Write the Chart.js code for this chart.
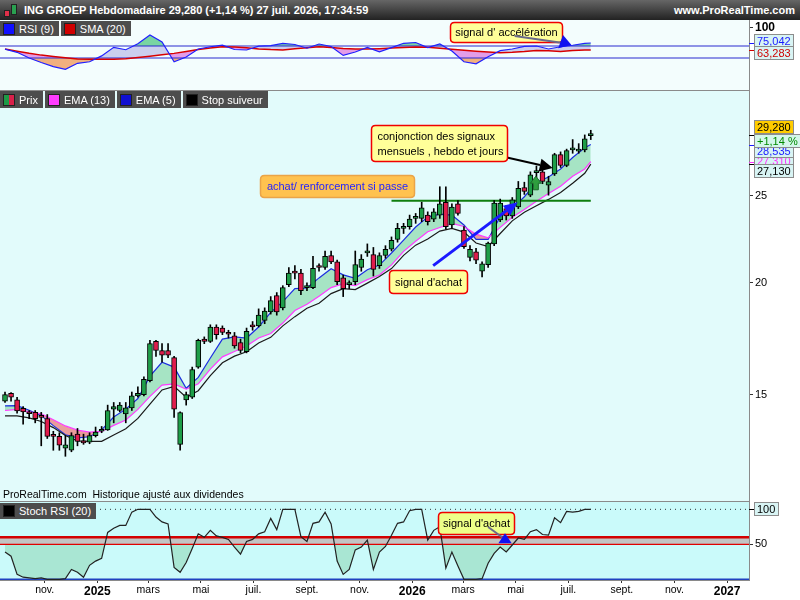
<!DOCTYPE html>
<html lang="fr">
<head>
<meta charset="utf-8">
<title>ING GROEP Hebdomadaire</title>
<script src="https://cdn.jsdelivr.net/npm/chart.js@4.4.1/dist/chart.umd.min.js"></script>
<style>
  html, body { margin: 0; padding: 0; background: #fff; }
  body { position: relative; width: 800px; height: 600px; overflow: hidden;
         font-family: "Liberation Sans", Arial, sans-serif; font-size: 11px; }
  canvas { position: absolute; left: 0; }
  #titre { position: absolute; left: 0; top: 0; width: 800px; height: 20px;
           background: linear-gradient(#666, #222); color: #fff; font-weight: bold; line-height: 20px; }
  #titre .nom { position: absolute; left: 24px; }
  #titre .site { position: absolute; right: 5px; }
  .ico { position: absolute; width: 4px; border: 1px solid #222; }
  .sep { position: absolute; left: 0; width: 749px; height: 1px; background: #8a8a8a; }
  .chips { position: absolute; left: 0; display: flex; }
  .chip { display: flex; align-items: center; background: #4d4d4d; color: #fff;
          margin-right: 2px; padding: 0 5px 0 3px; white-space: nowrap; }
  .chip b { display: inline-block; width: 10px; height: 10px; margin-right: 4px; border: 1px solid #222; }
  #source { position: absolute; left: 3px; top: 488px; color: #000; font-size: 10.5px; }
</style>
</head>
<body>
<div id="titre">
  <span class="ico" style="left:4px;top:10px;height:5px;background:#e0304a"></span>
  <span class="ico" style="left:11px;top:4px;height:9px;background:#2aa050"></span>
  <span class="nom">ING GROEP Hebdomadaire 29,280 (+1,14 %) 27 juil. 2026, 17:34:59</span>
  <span class="site">www.ProRealTime.com</span>
</div>
<canvas id="rsi" width="800" height="70" style="top:20px"></canvas>
<canvas id="prix" width="800" height="411" style="top:90px"></canvas>
<canvas id="stoch" width="800" height="99" style="top:501px"></canvas>
<div class="sep" style="top:90px"></div>
<div class="sep" style="top:501px"></div>
<div class="chips" style="top:21px;height:15px">
  <div class="chip"><b style="background:#1010ff"></b>RSI (9)</div>
  <div class="chip"><b style="background:#d00000"></b>SMA (20)</div>
</div>
<div class="chips" style="top:91px;height:17px">
  <div class="chip"><b style="background:linear-gradient(90deg,#1e9a46 50%,#d8204a 50%)"></b>Prix</div>
  <div class="chip"><b style="background:#ff3cff"></b>EMA (13)</div>
  <div class="chip"><b style="background:#1010d0"></b>EMA (5)</div>
  <div class="chip"><b style="background:#000"></b>Stop suiveur</div>
</div>
<div id="source">ProRealTime.com&nbsp; Historique ajusté aux dividendes</div>
<div class="chips" style="top:503px;height:16px">
  <div class="chip"><b style="background:#000"></b>Stoch RSI (20)</div>
</div>

<script>
// ----------------------------
// Données (semaines depuis le 16 sept. 2024)
// ----------------------------
const opens = [
  14.75, 15.05, 14.8, 14.48, 14.3, 14.33, 14.2, 14.1, 13.52, 13.47,
  13.07, 13.0, 13.55, 13.3, 13.27, 13.5, 13.65, 13.7, 14.45, 14.4,
  14.27, 14.5, 14.95, 15.0, 15.55, 17.2, 16.8, 16.8, 16.5, 13.2,
  14.8, 14.9, 16.1, 17.3, 17.2, 17.85, 17.8, 17.55, 17.45, 17.15,
  16.75, 17.95, 17.9, 18.15, 18.55, 19.35, 18.75, 19.9, 20.6, 20.5,
  19.75, 19.75, 20.9, 20.8, 21.45, 21.1, 20.25, 19.9, 20.05, 20.8,
  21.6, 21.5, 20.9, 21.45, 21.8, 22.35, 23.0, 23.1, 23.6, 23.6,
  23.8, 23.55, 23.8, 24.6, 23.2, 24.5, 22.9, 21.35, 21.65, 20.6,
  20.95, 22.1, 23.5, 24.2, 23.75, 24.3, 25.55, 25.05, 26.55, 26.6,
  25.7, 26.45, 27.8, 27.05, 28.15, 28.05, 28.15, 29.2
];
const highs = [
  15.1, 15.08, 14.9, 14.55, 14.4, 14.4, 14.33, 14.25, 13.65, 13.6,
  13.5, 13.6, 13.75, 13.55, 13.6, 13.8, 13.82, 14.6, 14.7, 14.7,
  14.7, 15.1, 15.3, 15.7, 17.25, 17.25, 17.1, 17.1, 16.55, 14.35,
  15.1, 16.1, 17.3, 17.4, 17.95, 17.95, 17.9, 17.7, 17.6, 17.3,
  17.8, 18.1, 18.7, 18.75, 19.3, 19.5, 19.85, 20.8, 20.9, 20.7,
  20.0, 21.4, 21.0, 21.7, 21.7, 21.2, 20.4, 20.1, 21.7, 21.5,
  22.1, 21.9, 21.6, 22.0, 22.5, 23.3, 23.3, 23.8, 23.9, 24.6,
  24.0, 24.2, 25.6, 25.6, 24.5, 24.7, 23.1, 22.0, 21.85, 21.1,
  22.2, 24.7, 24.8, 24.4, 24.9, 25.95, 25.9, 26.6, 27.0, 26.8,
  26.3, 27.9, 28.0, 28.2, 28.9, 28.6, 29.25, 29.6
];
const lows = [
  14.7, 14.75, 14.3, 13.9, 14.1, 13.95, 13.15, 13.4, 13.0, 13.0,
  12.8, 12.95, 13.15, 13.2, 13.22, 13.45, 13.6, 13.68, 13.95, 14.35,
  13.95, 14.4, 14.9, 14.95, 15.5, 16.55, 16.3, 16.5, 14.15, 13.0,
  14.6, 14.85, 16.05, 17.1, 17.15, 17.3, 17.5, 17.35, 16.9, 16.7,
  16.7, 17.7, 17.85, 18.0, 18.45, 18.4, 18.65, 19.8, 20.2, 19.4,
  19.6, 19.7, 20.6, 20.7, 21.0, 19.9, 19.3, 19.7, 19.9, 20.6,
  21.4, 20.35, 20.75, 21.3, 21.7, 22.2, 22.7, 22.95, 23.3, 23.4,
  23.2, 23.4, 23.6, 22.95, 23.0, 23.8, 21.85, 21.15, 21.0, 20.3,
  20.8, 22.0, 23.4, 23.5, 23.6, 24.2, 25.1, 24.95, 26.2, 25.8,
  25.05, 26.35, 26.9, 26.95, 27.9, 27.9, 28.0, 28.9
];
const closes = [
  15.0, 14.9, 14.38, 14.35, 14.28, 14.1, 14.15, 13.47, 13.47, 13.17,
  13.18, 13.5, 13.3, 13.25, 13.5, 13.62, 13.68, 14.4, 14.55, 14.6,
  14.5, 14.95, 15.05, 15.6, 17.1, 16.8, 16.6, 16.6, 14.45, 14.32,
  15.0, 16.0, 17.25, 17.2, 17.85, 17.5, 17.6, 17.52, 17.0, 16.8,
  17.65, 17.85, 18.4, 18.6, 19.1, 18.55, 19.75, 20.5, 20.5, 19.6,
  19.8, 20.75, 20.8, 21.4, 21.1, 20.05, 19.7, 19.95, 20.95, 21.25,
  21.65, 20.7, 21.45, 21.8, 22.3, 23.0, 23.05, 23.55, 23.65, 24.25,
  23.4, 24.0, 24.5, 23.1, 24.3, 23.9, 21.95, 21.8, 21.2, 21.0,
  22.15, 24.55, 24.55, 23.75, 24.75, 25.5, 25.3, 26.4, 26.6, 25.95,
  25.95, 27.8, 27.05, 28.1, 28.2, 28.2, 28.95, 29.28
];

// semaines où les courbes ont été relevées
const lineWeeks = [
  0, 2, 4, 6, 8, 10, 12, 14, 16, 18, 20, 22, 24, 26, 28, 30, 32, 34, 36, 38,
  40, 42, 44, 46, 48, 50, 52, 54, 56, 58, 60, 62, 64, 66, 68, 70, 72, 74, 76, 78,
  80, 82, 84, 86, 88, 90, 92, 94, 96, 97
];
const ema5 = [
  14.57, 14.58, 14.41, 14.21, 13.85, 13.53, 13.42, 13.46, 13.7, 14.16,
  14.45, 14.85, 15.73, 16.3, 16.1, 15.25, 15.68, 16.48, 17.3, 17.4,
  17.35, 17.85, 18.53, 19.05, 19.7, 19.73, 20.25, 20.73, 20.41, 20.23,
  20.68, 20.93, 21.59, 22.32, 23.08, 23.68, 23.86, 23.8, 23.2, 22.36,
  22.36, 23.7, 24.2, 24.95, 25.88, 26.25, 26.8, 27.6, 28.3, 28.535
];
const ema13 = [
  14.4, 14.44, 14.35, 14.28, 14.06, 13.84, 13.69, 13.62, 13.65, 13.86,
  14.05, 14.44, 14.93, 15.37, 15.42, 15.21, 15.42, 16.02, 16.53, 16.76,
  17.0, 17.35, 17.55, 18.03, 18.62, 18.92, 19.32, 19.75, 19.95, 19.85,
  20.16, 20.4, 20.94, 21.68, 22.25, 22.8, 23.05, 23.3, 23.11, 22.66,
  22.45, 23.06, 23.67, 24.14, 24.66, 25.16, 25.63, 26.3, 26.8, 27.31
];
const stopSuiveur = [
  14.2, 14.2, 14.13, 14.0, 13.78, 13.5, 13.32, 13.3, 13.3, 13.52,
  13.74, 14.11, 14.64, 15.18, 15.32, 14.9, 15.15, 15.75, 16.28, 16.56,
  16.75, 17.13, 17.38, 17.9, 18.33, 18.73, 18.97, 19.45, 19.7, 19.65,
  19.98, 20.32, 20.74, 21.46, 22.03, 22.38, 22.84, 23.0, 22.78, 22.15,
  21.95, 22.7, 23.45, 23.98, 24.38, 24.78, 25.22, 25.83, 26.5, 27.13
];
const resistanceWeeks = [64, 97];
const resistanceLevel = 24.7;
const priceTicks = [15, 20, 25];

const rsi = [
  64.7, 59.5, 50, 42.5, 35.7, 31.2, 41.2, 43.7, 53.5, 67.8,
  63.8, 73.8, 88.3, 76.7, 43.7, 51.7, 65, 68.8, 71.3, 64.2,
  63.3, 69.7, 70.5, 74.2, 72.5, 66.3, 73.3, 69.2, 54.3, 60,
  67.8, 60.3, 67.3, 74.5, 75.8, 67.5, 73.3, 61.5, 43.7, 40.3,
  52.2, 62.3, 65, 69.3, 70, 65, 68.8, 71.2, 74.3, 75.042
];
const rsiSma = [
  65, 61.3, 57.8, 54.8, 52.5, 50.3, 48.3, 47.8, 47.8, 47.8,
  48.7, 50.8, 53, 55.3, 57.7, 60.7, 64, 66.7, 68.8, 68.2,
  67, 65.2, 64, 63.3, 65.5, 67, 68.8, 67.3, 65.8, 64.8,
  64.8, 65.5, 66.5, 67.5, 68.5, 67.8, 66.2, 64.5, 62.8, 61.2,
  59.8, 58.8, 59.5, 60.7, 62.5, 62.2, 60.7, 62.5, 63.3, 63.283
];
const rsiLevels = [70, 50];

const stochRsi = [
  39, 33, 7, 3, 2, 1, 2, 0, 0, 0,
  1, 14, 10, 3, 20, 26, 30, 67, 73, 77,
  77, 96, 100, 100, 100, 89, 82, 79, 17, 10,
  24, 44, 65, 60, 70, 62, 60, 57, 46, 36,
  54, 57, 65, 68, 87, 71, 100, 100, 100, 61,
  54, 80, 82, 96, 79, 26, 7, 14, 42, 46,
  56, 14, 39, 47, 63, 80, 82, 98, 100, 100,
  56, 70, 75, 16, 39, 19, 0, 0, 0, 1,
  23, 37, 46, 39, 49, 59, 57, 68, 71, 64,
  63, 88, 81, 97, 96, 97, 100, 100
];
const stochBand = [60, 50];
const stochTop = 100;
const stochFloor = 0;

const axisDates = [
  [2024, 11, 1], [2025, 1, 1], [2025, 3, 1], [2025, 5, 1], [2025, 7, 1], [2025, 9, 1], [2025, 11, 1],
  [2026, 1, 1], [2026, 3, 1], [2026, 5, 1], [2026, 7, 1], [2026, 9, 1], [2026, 11, 1], [2027, 1, 1]
];
const axisLabels = ['nov.', '2025', 'mars', 'mai', 'juil.', 'sept.', 'nov.',
                    '2026', 'mars', 'mai', 'juil.', 'sept.', 'nov.', '2027'];

// ----------------------------
// Réglages communs
// ----------------------------
const FONT = '"Liberation Sans", Arial, sans-serif';
Chart.defaults.font.family = FONT;
Chart.defaults.font.size = 11;
Chart.defaults.color = '#000';

const startWeek = Date.UTC(2024, 8, 16);
const weekOf = d => (Date.UTC(d[0], d[1] - 1, d[2]) - startWeek) / (7 * 86400000);
const axisTicks = axisDates.map(weekOf);
const X_MIN = -0.83, X_MAX = 123.2;

const weeks = closes.map((_, i) => i);
const pts = arr => lineWeeks.map((x, k) => ({ x: x, y: arr[k] }));
const level = v => [{ x: X_MIN, y: v }, { x: X_MAX, y: v }];
const fmt = v => v.toFixed(3).replace('.', ',');
const NONE = 'rgba(0,0,0,0)';

// pas de marge ajoutée par les étiquettes d'axe
function noPad(s) {
  s.paddingTop = 0; s.paddingBottom = 0; s.paddingLeft = 0; s.paddingRight = 0;
}

function xAxis(show) {
  return {
    type: 'linear', min: X_MIN, max: X_MAX, offset: false, display: show,
    afterBuildTicks: s => { s.ticks = axisTicks.map(v => ({ value: v })); },
    afterFit: s => { if (show) s.height = 20; noPad(s); },
    grid: { drawOnChartArea: false, color: '#333', tickLength: 3 },
    border: { color: '#8a8a8a' },
    ticks: {
      autoSkip: false, maxRotation: 0, padding: 1, color: '#000',
      callback: (v, i) => axisLabels[i],
      font: c => /^\d/.test(axisLabels[c.index] || '')
        ? { family: FONT, size: 12, weight: 'bold' }
        : { family: FONT, size: 10.5 }
    }
  };
}

function yAxis(extra) {
  return Object.assign({
    position: 'right',
    afterFit: s => { s.width = 51; noPad(s); },
    grid: { drawOnChartArea: false, color: '#333', tickLength: 4 },
    border: { color: '#8a8a8a' },
    ticks: { color: '#000', padding: 2, autoSkip: false }
  }, extra);
}

// fond de la zone de tracé
const panelBg = {
  id: 'panelBg',
  beforeDraw(chart, args, opts) {
    const { ctx, chartArea: a } = chart;
    ctx.save();
    ctx.fillStyle = opts.color;
    ctx.fillRect(a.left, a.top, a.right - a.left, a.bottom - a.top);
    ctx.restore();
  }
};

function roundBox(ctx, x, y, w, h, r) {
  ctx.beginPath();
  ctx.moveTo(x + r, y);
  ctx.lineTo(x + w - r, y); ctx.quadraticCurveTo(x + w, y, x + w, y + r);
  ctx.lineTo(x + w, y + h - r); ctx.quadraticCurveTo(x + w, y + h, x + w - r, y + h);
  ctx.lineTo(x + r, y + h); ctx.quadraticCurveTo(x, y + h, x, y + h - r);
  ctx.lineTo(x, y + r); ctx.quadraticCurveTo(x, y, x + r, y);
  ctx.closePath();
}

// annotations (positions en semaines / valeurs)
const notes = {
  id: 'notes',
  afterDatasetsDraw(chart, args, opts) {
    const ctx = chart.ctx, sx = chart.scales.x, sy = chart.scales.y;
    const X = v => sx.getPixelForValue(v), Y = v => sy.getPixelForValue(v);
    ctx.save();
    for (const n of opts.items || []) {
      if (n.kind === 'box') {
        const x1 = Math.round(X(n.x1)) + 0.5, x2 = Math.round(X(n.x2)) + 0.5;
        const y1 = Math.round(Y(n.y1)) + 0.5, y2 = Math.round(Y(n.y2)) + 0.5;
        roundBox(ctx, x1, y1, x2 - x1, y2 - y1, 4);
        ctx.fillStyle = n.bg; ctx.fill();
        ctx.strokeStyle = n.border; ctx.lineWidth = 1.5; ctx.stroke();
        ctx.font = '11px ' + FONT;
        ctx.fillStyle = n.color || '#000';
        ctx.textBaseline = 'middle';
        ctx.textAlign = n.align === 'left' ? 'left' : 'center';
        const tx = n.align === 'left' ? x1 + 6 : (x1 + x2) / 2;
        const lh = 15, cy = (y1 + y2) / 2 - (n.text.length - 1) * lh / 2;
        n.text.forEach((s, k) => ctx.fillText(s, tx, cy + k * lh + 0.5));
      } else if (n.kind === 'arrow') {
        const x1 = X(n.x1), y1 = Y(n.y1), x2 = X(n.x2), y2 = Y(n.y2);
        const a = Math.atan2(y2 - y1, x2 - x1);
        const bx = x2 - n.head * Math.cos(a), by = y2 - n.head * Math.sin(a);
        ctx.strokeStyle = n.color; ctx.lineWidth = n.width;
        ctx.beginPath(); ctx.moveTo(x1, y1); ctx.lineTo(bx, by); ctx.stroke();
        if (n.head > 0) {
          const nx = -Math.sin(a) * n.wide / 2, ny = Math.cos(a) * n.wide / 2;
          ctx.fillStyle = n.color;
          ctx.beginPath(); ctx.moveTo(x2, y2); ctx.lineTo(bx + nx, by + ny); ctx.lineTo(bx - nx, by - ny);
          ctx.closePath(); ctx.fill();
        }
      } else if (n.kind === 'tri') {
        ctx.fillStyle = n.color;
        ctx.beginPath();
        n.pts.forEach((p, k) => k ? ctx.lineTo(X(p[0]), Y(p[1])) : ctx.moveTo(X(p[0]), Y(p[1])));
        ctx.closePath(); ctx.fill();
      } else if (n.kind === 'up') {
        const x = X(n.x), yb = Y(n.y1), yt = Y(n.y2), yh = yt + 7;
        ctx.fillStyle = n.color; ctx.strokeStyle = n.border; ctx.lineWidth = 1;
        ctx.beginPath();
        ctx.moveTo(x - 2.5, yb); ctx.lineTo(x - 2.5, yh); ctx.lineTo(x - 5.5, yh); ctx.lineTo(x, yt);
        ctx.lineTo(x + 5.5, yh); ctx.lineTo(x + 2.5, yh); ctx.lineTo(x + 2.5, yb);
        ctx.closePath(); ctx.fill(); ctx.stroke();
      }
    }
    ctx.restore();
  }
};

// étiquettes de dernière valeur sur l'axe de droite
const tags = {
  id: 'tags',
  afterDraw(chart, args, opts) {
    const ctx = chart.ctx, sy = chart.scales.y, x0 = chart.chartArea.right;
    ctx.save();
    ctx.font = '11px ' + FONT;
    for (const t of opts.items || []) {
      const y = sy.getPixelForValue(t.value);
      if (t.tick) {
        ctx.strokeStyle = t.tick; ctx.lineWidth = 1;
        ctx.beginPath(); ctx.moveTo(x0, Math.round(y) + 0.5); ctx.lineTo(x0 + 5, Math.round(y) + 0.5); ctx.stroke();
      }
      const cy = Math.round(y + t.shift);
      const w = Math.ceil(ctx.measureText(t.text).width) + 6;
      ctx.fillStyle = t.bg; ctx.fillRect(x0 + 5, cy - 7, w, 14);
      ctx.strokeStyle = '#8c8c8c'; ctx.strokeRect(x0 + 5.5, cy - 6.5, w - 1, 13);
      ctx.fillStyle = t.color; ctx.textBaseline = 'middle'; ctx.textAlign = 'left';
      ctx.fillText(t.text, x0 + 8, cy + 0.5);
    }
    ctx.restore();
  }
};

const base = {
  responsive: false, animation: false, events: [],
  layout: { padding: 0 }
};

// ----------------------------
// RSI (9) + SMA (20)
// ----------------------------
const rsiPts = pts(rsi), smaPts = pts(rsiSma);
new Chart(document.getElementById('rsi'), {
  type: 'line',
  data: { datasets: [
    { data: rsiPts, borderColor: NONE, borderWidth: 0, pointRadius: 0,
      fill: { target: { value: rsiLevels[0] }, above: '#79d5a2', below: NONE } },
    { data: rsiPts, borderColor: NONE, borderWidth: 0, pointRadius: 0,
      fill: { target: { value: rsiLevels[1] }, above: NONE, below: '#f1b07f' } },
    { label: 'RSI (9)', data: rsiPts, borderColor: '#2020ff', borderWidth: 1.2, pointRadius: 0,
      fill: { target: 3, above: '#cbcfee', below: '#e39de7' } },
    { label: 'SMA (20)', data: smaPts, borderColor: '#d80000', borderWidth: 1.5, pointRadius: 0 },
    { data: level(rsiLevels[0]), borderColor: '#2a2ad0', borderWidth: 1.2, pointRadius: 0 },
    { data: level(rsiLevels[1]), borderColor: '#2a2ad0', borderWidth: 1.2, pointRadius: 0 }
  ]},
  options: Object.assign({}, base, {
    scales: {
      x: xAxis(false),
      y: yAxis({
        min: -3.33, max: 113.33,
        afterBuildTicks: s => { s.ticks = [{ value: 100 }]; },
        ticks: { color: '#000', padding: 2, font: { family: FONT, size: 12, weight: 'bold' } }
      })
    },
    plugins: {
      legend: { display: false }, tooltip: { enabled: false },
      filler: { drawTime: 'beforeDatasetsDraw' },
      panelBg: { color: '#f3fdfd' },
      notes: { items: [
        { kind: 'box', x1: 73.7, x2: 92.2, y1: 110, y2: 76.2, bg: '#ffff99', border: '#f00000',
          text: ["signal d' accélération"] },
        { kind: 'arrow', x1: 84.4, y1: 86.7, x2: 92.4, y2: 75, color: '#6a6a8a', width: 2, head: 0, wide: 0 },
        { kind: 'tri', color: '#1010f0', pts: [[92.4, 88.3], [91.6, 66.2], [93.8, 71.7]] }
      ]},
      tags: { items: [
        { value: rsi[rsi.length - 1], text: fmt(rsi[rsi.length - 1]), color: '#1a1aff', bg: '#d8f4f4', tick: '#1a1aff', shift: -2 },
        { value: rsiSma[rsiSma.length - 1], text: fmt(rsiSma[rsiSma.length - 1]), color: '#d00000', bg: '#d8f4f4', tick: '#d00000', shift: 3 }
      ]}
    }
  }),
  plugins: [panelBg, notes, tags]
});

// ----------------------------
// Prix : bougies + EMA + stop suiveur
// ----------------------------
const last = closes.length - 1;
const variation = (closes[last] / closes[last - 1] - 1) * 100;
new Chart(document.getElementById('prix'), {
  type: 'bar',
  data: { datasets: [
    { label: 'Corps', data: weeks.map(i => ({ x: i, y: [opens[i], closes[i]] })),
      backgroundColor: weeks.map(i => closes[i] >= opens[i] ? '#1e9e48' : '#e01c4c'),
      borderColor: '#000', borderWidth: 1, borderSkipped: false,
      barThickness: 5, minBarLength: 2, grouped: false, order: 0 },
    { label: 'Mèches', data: weeks.map(i => ({ x: i, y: [lows[i], highs[i]] })),
      backgroundColor: '#000', borderWidth: 0, barThickness: 1, minBarLength: 1, grouped: false, order: 1 },
    { type: 'line', label: 'Résistance', data: resistanceWeeks.map(x => ({ x: x, y: resistanceLevel })),
      borderColor: '#0e7e0e', borderWidth: 2, pointRadius: 0, order: 2 },
    { type: 'line', label: 'Stop suiveur', data: pts(stopSuiveur),
      borderColor: '#1a1a1a', borderWidth: 1.2, pointRadius: 0, order: 3 },
    { type: 'line', label: 'EMA (13)', data: pts(ema13),
      borderColor: '#ff3cff', borderWidth: 1.2, pointRadius: 0, order: 4 },
    { type: 'line', label: 'EMA (5)', data: pts(ema5),
      borderColor: '#1c2ee0', borderWidth: 1.2, pointRadius: 0, order: 5,
      fill: { target: 4, above: '#a6e4c4', below: '#ea9c9c' } }
  ]},
  options: Object.assign({}, base, {
    scales: {
      x: xAxis(false),
      y: yAxis({
        type: 'logarithmic', min: 11.41, max: 32.83,
        afterBuildTicks: s => { s.ticks = priceTicks.map(v => ({ value: v })); },
        ticks: { color: '#000', padding: 2, callback: v => String(v), font: { family: FONT, size: 11 } }
      })
    },
    plugins: {
      legend: { display: false }, tooltip: { enabled: false },
      panelBg: { color: '#e2fbfb' },
      notes: { items: [
        { kind: 'box', x1: 42.2, x2: 67.7, y1: 26.39, y2: 24.94, bg: '#ffc24f', border: '#eaa448',
          color: '#2424ff', text: ['achat/ renforcement si passe'] },
        { kind: 'box', x1: 63.6, x2: 76.5, y1: 20.67, y2: 19.48, bg: '#ffff99', border: '#f00000',
          text: ["signal d'achat"] },
        { kind: 'arrow', x1: 70.9, y1: 20.9, x2: 84.9, y2: 24.6, color: '#1a1aff', width: 3, head: 14, wide: 12 },
        { kind: 'arrow', x1: 80.0, y1: 27.9, x2: 90.7, y2: 26.87, color: '#000', width: 2, head: 13, wide: 13 },
        { kind: 'box', x1: 60.6, x2: 83.1, y1: 30.0, y2: 27.33, bg: '#ffff99', border: '#f00000', align: 'left',
          text: ['conjonction des signaux', 'mensuels , hebdo et jours'] },
        { kind: 'up', x: 87.9, y1: 25.4, y2: 26.3, color: '#2e9e3e', border: '#1a6a2a' }
      ]},
      tags: { items: [
        { value: ema13[ema13.length - 1], text: fmt(ema13[ema13.length - 1]), color: '#ff33ff', bg: '#d8f4f4', tick: '#ff33ff', shift: -1 },
        { value: ema5[ema5.length - 1], text: fmt(ema5[ema5.length - 1]), color: '#1a1aff', bg: '#d8f4f4', tick: '#1a1aff', shift: 6 },
        { value: closes[last], text: fmt(closes[last]), color: '#000', bg: '#ffcc00', tick: '#000', shift: -8 },
        { value: closes[last], text: '+' + variation.toFixed(2).replace('.', ',') + ' %', color: '#008a00', bg: '#d4f7ea', shift: 6 },
        { value: stopSuiveur[stopSuiveur.length - 1], text: fmt(stopSuiveur[stopSuiveur.length - 1]), color: '#000', bg: '#d8f4f4', tick: '#000', shift: 7 }
      ]}
    }
  }),
  plugins: [panelBg, notes, tags]
});

// ----------------------------
// Stoch RSI (20)
// ----------------------------
new Chart(document.getElementById('stoch'), {
  type: 'line',
  data: { datasets: [
    { label: 'Stoch RSI (20)', data: weeks.map(i => ({ x: i, y: stochRsi[i] })),
      borderColor: '#222', borderWidth: 1.2, pointRadius: 0,
      fill: { target: { value: stochBand[1] }, above: NONE, below: '#a9e6d3' } },
    { data: level(stochBand[0]), borderColor: '#d40000', borderWidth: 2.5, pointRadius: 0,
      fill: { target: 2, above: '#c3c3c3', below: '#c3c3c3' } },
    { data: level(stochBand[1]), borderColor: '#e00000', borderWidth: 1.2, pointRadius: 0 },
    { data: level(stochTop), borderColor: '#333', borderWidth: 1, borderDash: [1, 4], pointRadius: 0 },
    { data: level(stochFloor), borderColor: '#2040c0', borderWidth: 1.5, pointRadius: 0 }
  ]},
  options: Object.assign({}, base, {
    scales: {
      x: xAxis(true),
      y: yAxis({
        min: -1, max: 111.9,
        afterBuildTicks: s => { s.ticks = [{ value: 50 }]; },
        ticks: { color: '#000', padding: 2, font: { family: FONT, size: 11 } }
      })
    },
    plugins: {
      legend: { display: false }, tooltip: { enabled: false },
      filler: { drawTime: 'beforeDatasetsDraw' },
      panelBg: { color: '#cafafa' },
      notes: { items: [
        { kind: 'box', x1: 71.7, x2: 84.3, y1: 96.1, y2: 64.7, bg: '#eeff88', border: '#f00000',
          text: ["signal d'achat"] },
        { kind: 'arrow', x1: 80, y1: 74.7, x2: 82.5, y2: 59, color: '#6a6a8a', width: 2, head: 0, wide: 0 },
        { kind: 'tri', color: '#1010f0', pts: [[82.8, 65.7], [81.7, 51.4], [83.9, 51.4]] }
      ]},
      tags: { items: [
        { value: stochTop, text: String(stochTop), color: '#000', bg: '#d8f4f4', tick: '#000', shift: 0 }
      ]}
    }
  }),
  plugins: [panelBg, notes, tags]
});
</script>
</body>
</html>
